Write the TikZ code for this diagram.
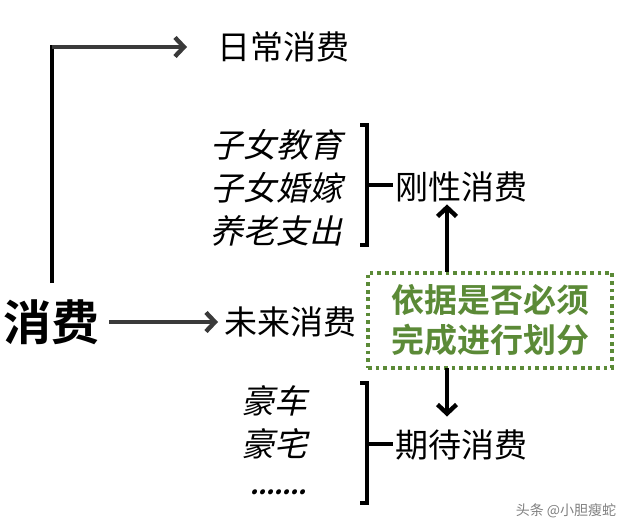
\documentclass[tikz,border=0pt]{standalone}
\usepackage{fontspec}
\usetikzlibrary{arrows.meta, positioning}
\newfontfamily\cjk{Noto Sans CJK SC}[BoldFont={* Bold}]
\newfontfamily\cjkit{Noto Sans CJK SC}[FakeSlant=0.22]
\definecolor{leafgreen}{HTML}{5B8A37}
\definecolor{arrowgray}{HTML}{3A3A3A}

\begin{document}
\begin{tikzpicture}[x = 1pt, y = -1pt,
                > = {Straight Barb[length=9pt,width=19pt]}, % arrow head style
                line width = 4.4pt % line style
            ]

            \tikzstyle{every node}=[inner sep = 0pt,
            font = \cjk\fontsize{33}{41}\selectfont]
            \tikzstyle{item}=[anchor = west, font = \cjkit\fontsize{33}{41}\selectfont]
            \tikzstyle{gray arrow}=[->, arrowgray]
            \tikzstyle{bracket}=[black, line width = 4pt]
            \tikzstyle{criterion}=[draw = leafgreen, line width = 4pt,
            dash pattern = on 3.8pt off 3.8pt, text = leafgreen, align = center,
            minimum width = 244pt, minimum height = 95pt,
            font = \cjk\bfseries\fontsize{33}{40}\selectfont]

            \useasboundingbox (0,0) rectangle (640,532);

            % main items
            \node (xf) at (52,322) {\fontsize{48}{56}\selectfont\bfseries 消费};
            \node[anchor = west] (rc) at (215,47) {日常消费};
            \node[anchor = west] (wl) at (222,322) {未来消费};
            \node[anchor = west] (gx) at (393,187) {刚性消费};
            \node[anchor = west] (qd) at (393,445) {期待消费};

            % examples
            \node[item] (jy) at (208,145) {子女教育};
            \node[item] (hj) [below = 8pt of jy.south west, anchor = north west] {子女婚嫁};
            \node[item] (hz0) [below = 8pt of hj.south west, anchor = north west] {养老支出};
            \node[item] (hc) at (239,401) {豪车};
            \node[item] (hz) [below = 8pt of hc.south west, anchor = north west] {豪宅};
            \node[item] (dd) at (248,492) {\fontsize{23}{27}\selectfont\bfseries .......};

            \node[criterion] (yj) at (490,320) {依据是否必须\\完成进行划分};

            \node[text = gray, font = \cjk\fontsize{14}{17}\selectfont] (wm) at (566,511)
            {头条 @小胆瘦蛇};

            % connectors
            \coordinate (corner) at (xf.north |- rc.west);
            \draw[black, shorten < = 14pt] (xf.north) -- ([yshift = 2.2pt]corner);
            \draw[gray arrow, shorten > = 28pt] (corner) -- (rc.west);
            \draw[gray arrow, shorten < = 7pt, shorten > = 4pt] (xf.east |- wl.west) -- (wl.west);

            \draw[bracket] (360,125) -- (367,125) -- (367,245) -- (360,245);
            \coordinate (gm) at (367,185);
            \draw[bracket] (gm) -- (gm -| gx.west);
            \draw[bracket] (360,383) -- (367,383) -- (367,503) -- (360,503);
            \coordinate (qm) at (367,444);
            \draw[bracket] (qm) -- (qm -| qd.west);

            \coordinate (up) at (447,272);
            \coordinate (down) at (447,368);
            \draw[->, black] (up) -- (up |- gx.south);
            \draw[->, black, shorten > = 11pt] (down) -- (down |- qd.north);
\end{tikzpicture}
\end{document}
